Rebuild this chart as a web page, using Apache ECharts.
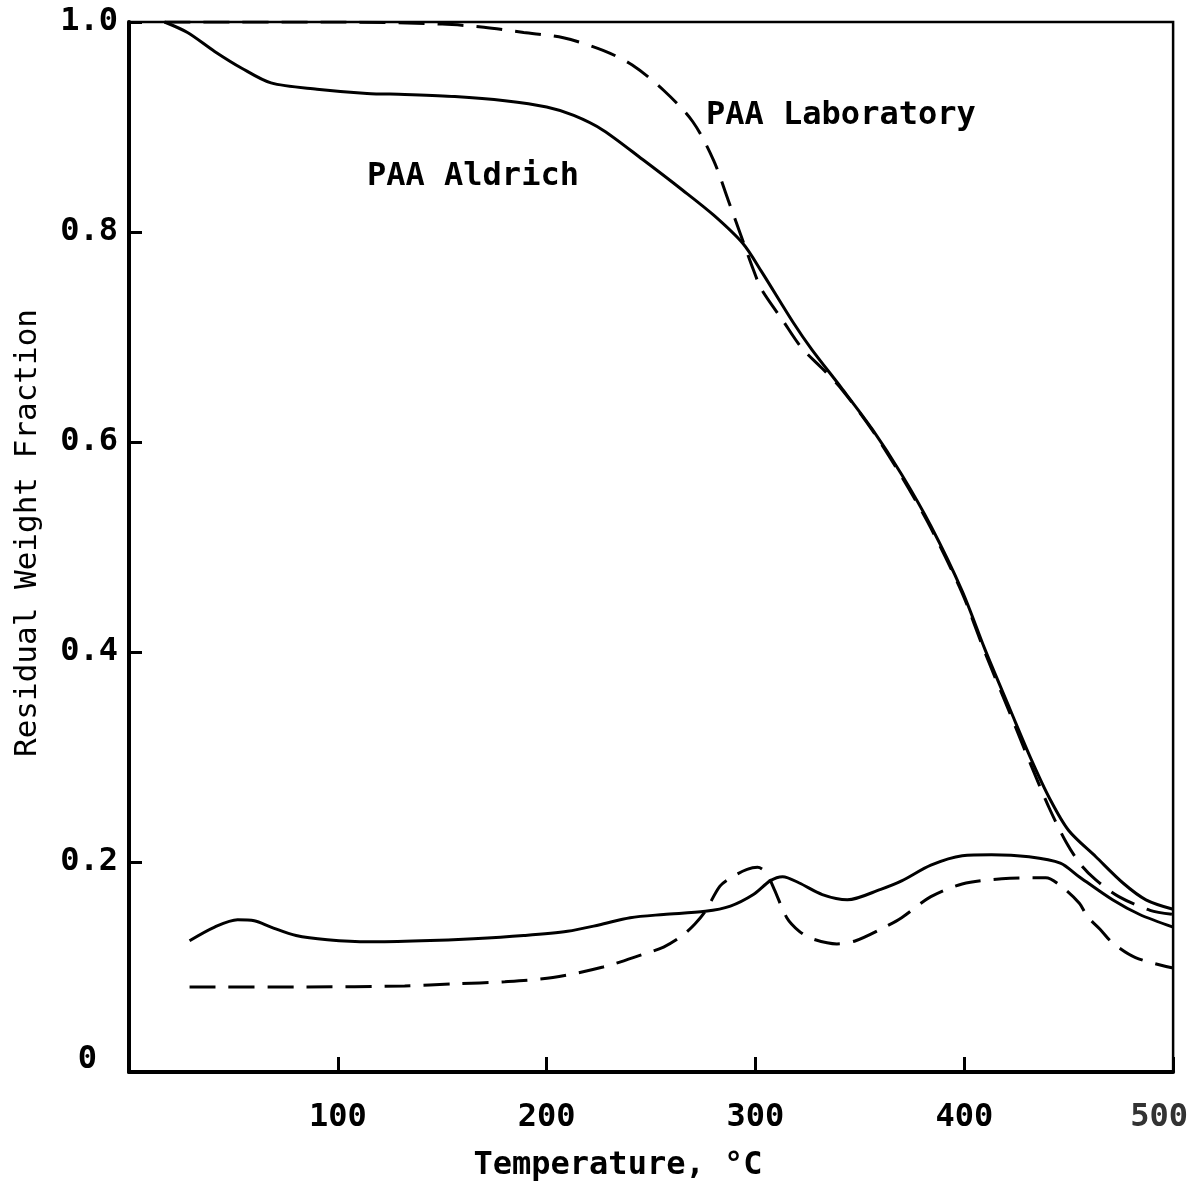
<!DOCTYPE html>
<html>
<head>
<meta charset="utf-8">
<script src="https://cdn.jsdelivr.net/npm/echarts@6/dist/echarts.min.js"></script>
<style>
  html, body { margin: 0; padding: 0; background: #fff; }
  #main { width: 1191px; height: 1203px; }
</style>
</head>
<body>
<div id="main"></div>
<script>
// temperature (°C), residual weight fraction
var aldrichTG = [[17,1.0],[28,0.99],[41,0.972],[54,0.956],[68,0.942],[90,0.936],[114,0.932],[132,0.931],
  [156,0.929],[180,0.925],[200,0.919],[213,0.911],[227,0.897],[246,0.869],[265,0.84],[280,0.816],
  [294,0.789],[303,0.762],[318,0.714],[327,0.688],[341,0.652],[356,0.612],[370,0.569],[384,0.52],
  [399,0.458],[410,0.402],[422,0.345],[432,0.298],[441,0.26],[450,0.23],[463,0.205],[476,0.18],
  [487,0.164],[500,0.155]];
var labTG = [[17,1.0],[100,1.0],[150,0.998],[170,0.995],[189,0.99],[208,0.985],[227,0.973],[241,0.959],
  [256,0.935],[270,0.905],[280,0.868],[287,0.83],[293,0.797],[299,0.764],[303,0.745],[313,0.716],
  [322,0.69],[332,0.67],[341,0.651],[356,0.611],[370,0.567],[384,0.518],[399,0.456],[410,0.399],
  [422,0.341],[432,0.292],[441,0.25],[449,0.218],[456,0.197],[463,0.183],[474,0.167],[489,0.154],[500,0.15]];
var aldrichDTG = [[29,0.125],[41,0.138],[52,0.145],[60,0.144],[68,0.138],[80,0.13],[95,0.126],[115,0.124],
  [140,0.125],[165,0.127],[189,0.13],[210,0.134],[225,0.14],[240,0.147],[256,0.15],[276,0.153],[288,0.158],
  [299,0.169],[307,0.182],[313,0.186],[321,0.18],[332,0.169],[344,0.164],[360,0.174],[370,0.182],[384,0.197],
  [399,0.206],[413,0.207],[431,0.205],[446,0.199],[455,0.186],[471,0.164],[484,0.15],[500,0.138]];
var labDTG = [[29,0.081],[84,0.081],[132,0.082],[156,0.084],[180,0.086],[203,0.09],[227,0.1],[246,0.112],
  [256,0.119],[265,0.13],[271,0.141],[276,0.153],[283,0.177],[289,0.186],[296,0.193],[301,0.195],[305,0.19],
  [309,0.174],[315,0.147],[321,0.134],[327,0.127],[339,0.122],[348,0.125],[360,0.136],[370,0.147],[384,0.167],
  [399,0.179],[418,0.184],[439,0.185],[447,0.176],[455,0.161],[459,0.148],[465,0.136],[471,0.123],[482,0.109],[500,0.099]];

var xTicks = [0, 100, 200, 300, 400, 500];
var yTicks = [0, 0.2, 0.4, 0.6, 0.8, 1.0];

var FONT = 'DejaVu Sans Mono';
var chart = echarts.init(document.getElementById('main'));

function curve(name, data, dashed) {
  return {
    name: name,
    type: 'line',
    data: data,
    showSymbol: false,
    smooth: 0.3,
    lineStyle: { color: '#000', width: 3, type: dashed ? [26, 13] : 'solid' },
    z: 3
  };
}

option = {
  backgroundColor: '#fff',
  animation: false,
  grid: {
    left: 129, right: 17, top: 22, bottom: 131,
    show: true, borderColor: '#000', borderWidth: 2.5
  },
  xAxis: {
    type: 'value',
    min: xTicks[0], max: xTicks[xTicks.length - 1], interval: 100,
    axisLine: { lineStyle: { color: '#000', width: 4 } },
    axisTick: { inside: true, length: 15, lineStyle: { color: '#000', width: 3 } },
    splitLine: { show: false },
    axisLabel: {
      margin: 30, fontFamily: FONT, fontSize: 32, fontWeight: 'bold', color: '#000',
      formatter: function (v) {
        if (v === 0) return '';
        if (v === 500) return '{r|500}';
        return String(v);
      },
      rich: { r: { fontFamily: FONT, fontSize: 32, color: '#333', padding: [0, 28, 0, 0] } }
    }
  },
  yAxis: {
    type: 'value',
    min: yTicks[0], max: yTicks[yTicks.length - 1], interval: 0.2,
    axisLine: { lineStyle: { color: '#000', width: 4 } },
    axisTick: { inside: true, length: 13, lineStyle: { color: '#000', width: 3 } },
    splitLine: { show: false },
    axisLabel: {
      margin: 11, fontFamily: FONT, fontSize: 32, fontWeight: 'bold', color: '#000',
      formatter: function (v) {
        if (v === 0) return '{z|0}';
        return v.toFixed(1);
      },
      rich: { z: { fontFamily: FONT, fontSize: 32, fontWeight: 'bold', color: '#000', padding: [0, 21, 24, 0] } }
    }
  },
  graphic: [
    { type: 'text', left: 367, top: 161, style: { text: 'PAA Aldrich', font: 'bold 32px "DejaVu Sans Mono"', fill: '#000' } },
    { type: 'text', left: 706, top: 100, style: { text: 'PAA Laboratory', font: 'bold 32px "DejaVu Sans Mono"', fill: '#000' } },
    { type: 'text', x: 618, y: 1166, style: { text: 'Temperature, °C', font: 'bold 32px "DejaVu Sans Mono"', fill: '#000', align: 'center', verticalAlign: 'middle' } },
    { type: 'text', x: 28, y: 533, rotation: Math.PI / 2, style: { text: 'Residual Weight Fraction', font: '31px "DejaVu Sans Mono"', fill: '#000', align: 'center', verticalAlign: 'middle' } }
  ],
  series: [
    curve('PAA Aldrich', aldrichTG, false),
    curve('PAA Laboratory', labTG, true),
    curve('PAA Aldrich DTG', aldrichDTG, false),
    curve('PAA Laboratory DTG', labDTG, true)
  ]
};
chart.setOption(option);
</script>
</body>
</html>
